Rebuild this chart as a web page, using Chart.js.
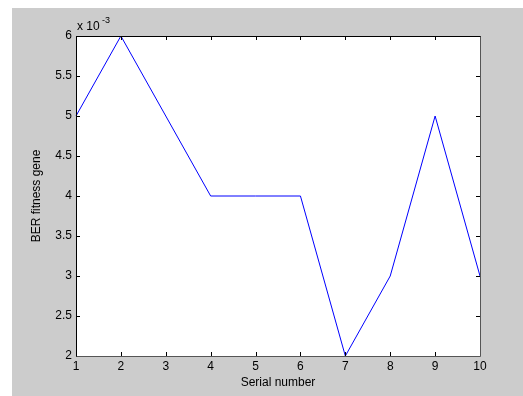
<!DOCTYPE html>
<html lang="en">
<head>
  <meta charset="UTF-8">
  <title>BER fitness gene</title>
  <style>
    html, body { margin: 0; padding: 0; background: #ffffff; }
    #box { width: 523px; height: 396px; }
  </style>
</head>
<body>
  <div id="box"><canvas id="grafico"></canvas></div>

  <script src="https://cdn.jsdelivr.net/npm/chart.js"></script>
  <script>
    // datos
    const serial = [1, 2, 3, 4, 5, 6, 7, 8, 9, 10];
    const berValues = [5, 6, 5, 4, 4, 4, 2, 3, 5, 3];   // x 10^-3
    const yTicks = [2, 2.5, 3, 3.5, 4, 4.5, 5, 5.5, 6];

    const fondoMatlab = {
      id: 'fondoMatlab',
      beforeDraw(chart) {
        const ctx = chart.ctx;
        const a = chart.chartArea;
        ctx.save();
        ctx.fillStyle = '#ffffff';
        ctx.fillRect(0, 0, chart.width, chart.height);
        ctx.fillStyle = '#cccccc';
        ctx.fillRect(12, 8, chart.width - 12, chart.height - 8);
        ctx.fillStyle = '#ffffff';
        ctx.fillRect(a.left, a.top, a.right - a.left, a.bottom - a.top);
        ctx.restore();
      },
      afterDraw(chart) {
        const ctx = chart.ctx;
        const a = chart.chartArea;
        const xs = chart.scales.x;
        const ys = chart.scales.y;
        ctx.save();
        ctx.strokeStyle = '#000000';
        ctx.lineWidth = 1;
        ctx.beginPath();
        serial.forEach(v => {
          const px = Math.round(xs.getPixelForValue(v)) + 0.5;
          ctx.moveTo(px, a.bottom); ctx.lineTo(px, a.bottom - 4);
          ctx.moveTo(px, a.top); ctx.lineTo(px, a.top + 4);
        });
        yTicks.forEach(v => {
          const py = Math.round(ys.getPixelForValue(v)) + 0.5;
          ctx.moveTo(a.left, py); ctx.lineTo(a.left + 4, py);
          ctx.moveTo(a.right, py); ctx.lineTo(a.right - 4, py);
        });
        ctx.stroke();
        ctx.beginPath();
        ctx.moveTo(a.left + 0.5, a.bottom + 0.5);
        ctx.lineTo(a.left + 0.5, a.top + 0.5);
        ctx.lineTo(a.right + 0.5, a.top + 0.5);
        ctx.stroke();
        ctx.strokeStyle = '#555555';
        ctx.beginPath();
        ctx.moveTo(a.right + 0.5, a.top + 0.5);
        ctx.lineTo(a.right + 0.5, a.bottom + 0.5);
        ctx.lineTo(a.left + 0.5, a.bottom + 0.5);
        ctx.stroke();
        ctx.fillStyle = '#000000';
        ctx.font = '12px "Liberation Sans", Arial, sans-serif';
        ctx.textBaseline = 'alphabetic';
        ctx.fillText('x 10', a.left + 1, a.top - 6);
        ctx.font = '9px "Liberation Sans", Arial, sans-serif';
        ctx.fillText('-3', a.left + 26, a.top - 13);
        ctx.restore();
      }
    };

    document.addEventListener("DOMContentLoaded", () => {
      const lienzo = document.querySelector("#grafico");
      const fuente = { family: 'Liberation Sans', size: 12 };

      new Chart(lienzo, {
        type: 'line',
        data: {
          datasets: [{
            label: 'BER',
            data: serial.map((s, i) => ({ x: s, y: berValues[i] })),
            borderColor: '#0000ff',
            borderWidth: 1,
            pointRadius: 0,
            tension: 0,
            clip: false
          }]
        },
        options: {
          responsive: true,
          maintainAspectRatio: false,
          animation: false,
          layout: { padding: { left: 0, top: 36, right: 43, bottom: 0 } },
          plugins: { legend: { display: false }, tooltip: { enabled: false } },
          scales: {
            x: {
              type: 'linear',
              min: 1, max: 10,
              afterBuildTicks: s => { s.ticks = serial.map(v => ({ value: v })); },
              afterFit: s => { s.height = 40; },
              grid: { display: false, drawTicks: false },
              border: { display: false },
              ticks: { color: '#000000', padding: 3, maxRotation: 0, font: fuente },
              title: { display: true, text: 'Serial number', color: '#000000', padding: { top: 0, bottom: 6 }, font: fuente }
            },
            y: {
              min: 2, max: 6,
              afterBuildTicks: s => { s.ticks = yTicks.map(v => ({ value: v })); },
              afterFit: s => { s.width = 76; },
              grid: { display: false, drawTicks: false },
              border: { display: false },
              ticks: {
                color: '#000000', padding: 4,
                font: fuente,
                callback: v => String(v)
              },
              title: { display: true, text: 'BER fitness gene', color: '#000000', padding: { top: 29, bottom: 0 }, font: fuente }
            }
          }
        },
        plugins: [fondoMatlab]
      });
    });
  </script>
</body>
</html>
